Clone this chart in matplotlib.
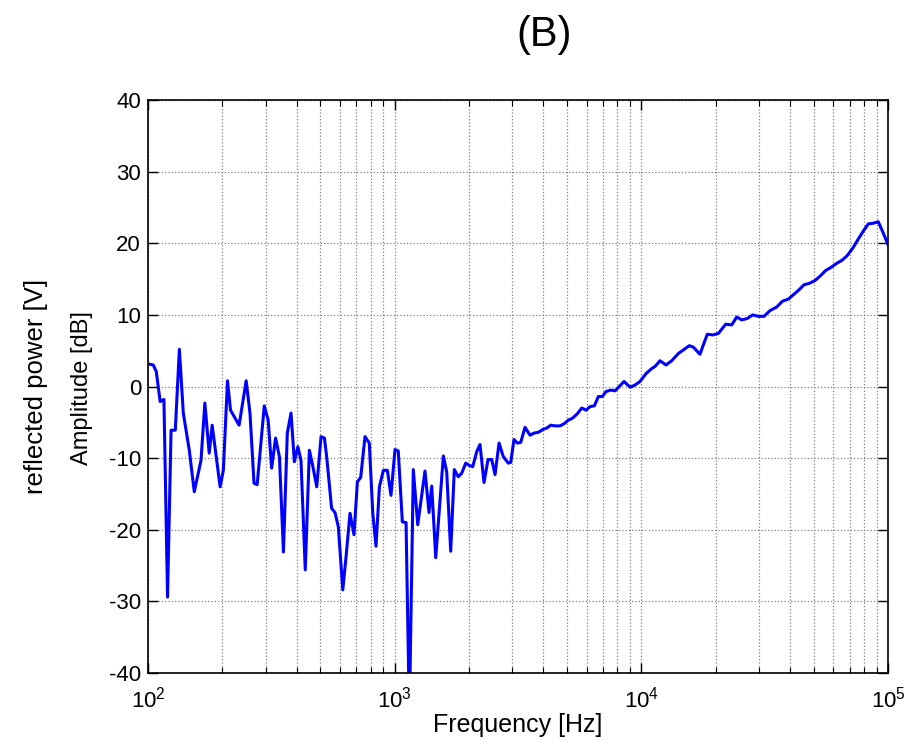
"""
Reflected power spectrum, panel (B).
"""

import numpy as np
import matplotlib.pyplot as plt

plt.rcParams["font.family"] = ["Liberation Sans", "DejaVu Sans"]
plt.rcParams["mathtext.fontset"] = "custom"
plt.rcParams["mathtext.rm"] = "Liberation Sans"
plt.rcParams["mathtext.it"] = "Liberation Sans"
plt.rcParams["axes.unicode_minus"] = False

# frequency [Hz] and amplitude [dB]
freq_hz = [
    102, 105, 108, 112, 116, 120, 124, 129, 134, 139,
    147, 154, 164, 170, 177, 182, 196, 202, 210, 216,
    234, 250, 259, 269, 277, 296, 307, 317, 329, 341,
    354, 367, 380, 392, 405, 417, 434, 451, 465, 483,
    503, 519, 530, 555, 573, 591, 616, 635, 659, 684,
    706, 728, 758, 789, 815, 840, 867, 900, 934, 966,
    1003, 1034, 1074, 1112, 1147, 1190, 1240, 1327, 1378, 1413,
    1467, 1575, 1625, 1687, 1745, 1811, 1870, 1941, 2001, 2072,
    2151, 2218, 2302, 2390, 2474, 2552, 2649, 2757, 2888, 2954,
    3046, 3142, 3243, 3376, 3538, 3673, 3824, 3985, 4136, 4293,
    4467, 4679, 4859, 5058, 5270, 5503, 5733, 5968, 6195, 6449,
    6693, 6947, 7193, 7515, 7823, 8142, 8507, 8999, 9425, 9876,
    10445, 11015, 11362, 11905, 12589, 13281, 14120, 14798, 15648, 16242,
    17289, 17830, 18509, 19469, 20512, 21979, 23246, 24357, 25521, 26889,
    28281, 29800, 31430, 33240, 35380, 37280, 39430, 41300, 43580, 45650,
    47960, 50580, 53010, 55890, 58560, 61940, 64900, 68000, 71920, 75800,
    79400, 83200, 87200, 91300, 95200, 100000,
]
amp_db = [
    3.1, 3.0, 2.1, -2.1, -1.8, -29.4, -6.1, -6.1, 5.2, -3.7,
    -8.9, -14.7, -10.3, -2.3, -9.3, -5.4, -14.0, -11.7, 0.8, -3.3,
    -5.4, 0.8, -3.7, -13.5, -13.7, -2.7, -4.7, -11.4, -7.2, -9.8,
    -23.1, -6.5, -3.7, -10.5, -8.4, -10.3, -25.6, -8.9, -11.0, -14.0,
    -7.0, -7.2, -9.8, -17.0, -17.6, -19.6, -28.4, -23.8, -17.7, -20.7,
    -13.3, -12.7, -7.0, -7.9, -17.7, -22.3, -14.0, -11.7, -11.7, -15.2,
    -8.8, -9.0, -18.9, -19.0, -46.0, -11.6, -19.3, -11.8, -17.6, -13.9,
    -23.9, -9.7, -11.9, -23.0, -11.6, -12.6, -12.1, -10.7, -11.0, -11.2,
    -9.1, -8.1, -13.4, -10.2, -10.2, -12.3, -7.9, -9.8, -10.7, -10.6,
    -7.4, -7.9, -7.8, -5.7, -6.8, -6.5, -6.4, -6.0, -5.8, -5.4,
    -5.5, -5.5, -5.2, -4.7, -4.4, -3.8, -3.0, -3.3, -2.8, -2.7,
    -1.4, -1.4, -0.7, -0.5, -0.6, 0.0, 0.7, -0.1, 0.2, 0.7,
    1.8, 2.5, 2.8, 3.6, 3.0, 3.6, 4.6, 5.1, 5.7, 5.5,
    4.5, 5.8, 7.3, 7.2, 7.4, 8.7, 8.6, 9.7, 9.3, 9.5,
    10.0, 9.8, 9.8, 10.6, 11.1, 11.9, 12.2, 12.8, 13.5, 14.2,
    14.4, 14.8, 15.4, 16.2, 16.6, 17.2, 17.6, 18.2, 19.3, 20.6,
    21.7, 22.7, 22.8, 23.0, 21.6, 19.8,
]

y_ticks = [-40, -30, -20, -10, 0, 10, 20, 30, 40]
x_ticks = [1e2, 1e3, 1e4, 1e5]
x_tick_labels = ["$10^{2}$", "$10^{3}$", "$10^{4}$", "$10^{5}$"]

fig = plt.figure(figsize=(9.12, 7.42), dpi=100)
ax = fig.add_axes([0.1623, 0.0930, 0.8114, 0.7722])

ax.semilogx(freq_hz, amp_db, color="#0000ff", linewidth=2.2)

ax.set_xlim(1e2, 1e5)
ax.set_ylim(-40, 40)
ax.set_yticks(y_ticks)
ax.set_xticks(x_ticks)
ax.set_xticklabels(x_tick_labels)

ax.grid(True, which="major", linestyle=":", color="#808080", linewidth=0.9)
ax.grid(True, which="minor", axis="x", linestyle=":", color="#808080", linewidth=0.9)

ax.tick_params(which="both", direction="in", top=True, right=True, labelsize=16)
ax.tick_params(which="major", length=7, width=1.0)
ax.tick_params(which="minor", length=4, width=0.8)
ax.tick_params(axis="x", pad=10)
ax.tick_params(axis="y", pad=5)
for spine in ax.spines.values():
    spine.set_linewidth(1.2)

ax.set_xlabel("Frequency [Hz]", fontsize=18)
ax.xaxis.set_label_coords(0.5, -0.07)
ax.set_ylabel("Amplitude [dB]", fontsize=17)
ax.yaxis.set_label_coords(-0.0743, 0.4965)

fig.text(0.040, 0.479, "reflected power [V]", rotation=90, fontsize=18.5,
         ha="center", va="center")
fig.text(0.597, 0.953, "(B)", fontsize=30, ha="center", va="center")

plt.savefig("out.png", dpi=100)
